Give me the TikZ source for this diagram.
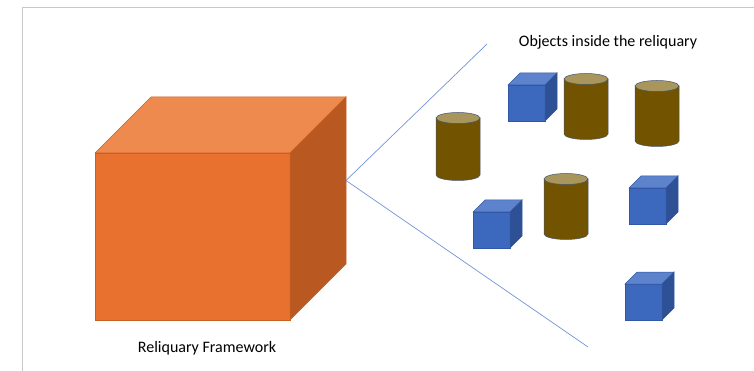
\documentclass[tikz,border=0pt]{standalone}
\usepackage{fontspec}
\setmainfont{Carlito}
\usepackage{xcolor}
\usepackage{tikz}
\usetikzlibrary{positioning, calc}
\definecolor{frameFront}{RGB}{233,113,48}
\definecolor{frameTop}{RGB}{239,138,79}
\definecolor{frameSide}{RGB}{185,89,33}
\definecolor{frameEdge}{RGB}{200,95,35}
\definecolor{boxFront}{RGB}{60,104,190}
\definecolor{boxTop}{RGB}{94,131,205}
\definecolor{boxSide}{RGB}{46,80,148}
\definecolor{boxEdge}{RGB}{50,88,165}
\definecolor{jarBody}{RGB}{113,83,0}
\definecolor{jarTop}{RGB}{168,150,92}
\definecolor{jarEdge}{RGB}{70,85,110}
\definecolor{ray}{RGB}{114,147,213}
\definecolor{pageEdge}{RGB}{200,200,200}

\begin{document}
\begin{tikzpicture}[x=1pt, y=-1pt,
    ray/.style={draw=ray, line width=0.7pt},
    lbl/.style={font=\fontsize{16}{19}\selectfont, inner sep=0pt}]
  \useasboundingbox (0,0) rectangle (754,371);
  \draw[pageEdge, line width=0.8pt] (22.5,371) -- (22.5,7.5) -- (754,7.5);
  % reliquary framework
  \def\fx{95}\def\fy{153}\def\fw{195}\def\fh{167}\def\fd{56}
  \filldraw[fill=frameFront, draw=frameEdge, line width=0.5pt]
    (\fx,\fy) rectangle ++(\fw,\fh);
  \filldraw[fill=frameTop, draw=frameEdge, line width=0.5pt]
    (\fx,\fy) -- ++(\fd,-\fd) -- ++(\fw,0) -- ++(-\fd,\fd) -- cycle;
  \filldraw[fill=frameSide, draw=frameEdge, line width=0.5pt]
    (\fx+\fw,\fy) -- ++(\fd,-\fd) -- ++(0,\fh) -- ++(-\fd,\fd) -- cycle;
  \coordinate (apex) at (\fx+\fw+\fd,\fy-\fd+\fh/2);
  \node[lbl] (framework) at (207,348) {Reliquary Framework};
  % rays
  \coordinate (rayTop) at (487,44);
  \coordinate (rayBot) at (588,347);
  \draw[ray] (apex) -- (rayTop);
  \draw[ray] (apex) -- (rayBot);
  \node[lbl] (objects) at (608,42) {Objects inside the reliquary};
  % boxes
  \foreach \bx/\by in {508/85, 473/212, 629/188, 625/284} {
    \filldraw[fill=boxFront, draw=boxEdge, line width=0.5pt]
      (\bx,\by) rectangle ++(37,36);
    \filldraw[fill=boxTop, draw=boxEdge, line width=0.5pt]
      (\bx,\by) -- ++(12,-12) -- ++(37,0) -- ++(-12,12) -- cycle;
    \filldraw[fill=boxSide, draw=boxEdge, line width=0.5pt]
      (\bx+37,\by) -- ++(12,-12) -- ++(0,36) -- ++(-12,12) -- cycle;
  }
  % jars
  \foreach \cx/\ctop/\cbot in {436/118/175, 564/79/134, 635/86/141, 544/179/234} {
    \filldraw[fill=jarBody, draw=jarEdge, line width=0.5pt]
      (\cx,\ctop) -- (\cx,\cbot) arc[start angle=180, end angle=0, x radius=22, y radius=5.5]
      -- (\cx+44,\ctop) -- cycle;
    \filldraw[fill=jarTop, draw=jarEdge, line width=0.5pt]
      (\cx+22,\ctop) ellipse[x radius=22, y radius=5.5];
  }
\end{tikzpicture}
\end{document}
